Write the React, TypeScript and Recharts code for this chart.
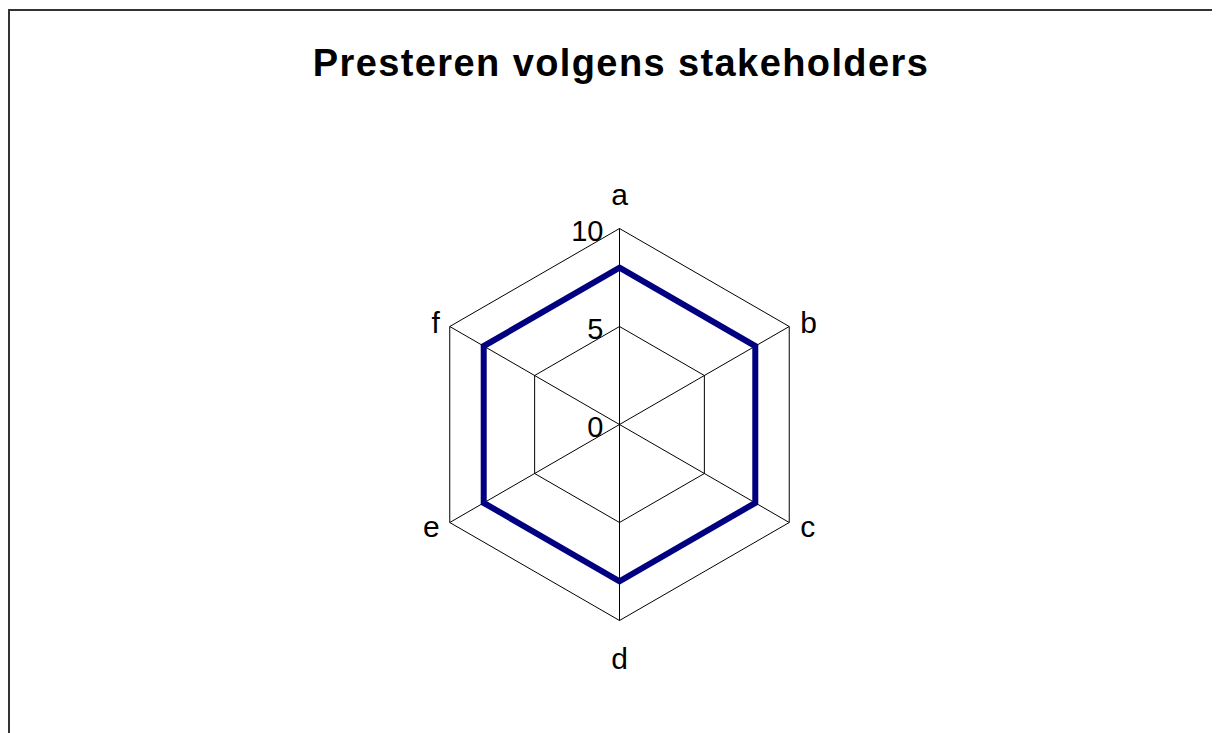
import {
  PolarAngleAxis,
  PolarGrid,
  PolarRadiusAxis,
  Radar,
  RadarChart,
} from "recharts";

const categories = ["a", "b", "c", "d", "e", "f"];
const scores = [8, 8, 8, 8, 8, 8];
const radiusTicks = [0, 5, 10];

const data = categories.map((subject, i) => ({ subject, value: scores[i] }));

const FONT = "'Liberation Sans', Arial, sans-serif";
const WIDTH = 1210;
const HEIGHT = 722;
const CX = 609.5;
const CY = 413.5;
const RADIUS = 196;

function AngleTick(props: any) {
  const { x, y, payload } = props;
  const dx = x - CX;
  const dy = y - CY;
  const len = Math.hypot(dx, dy) || 1;
  const ux = dx / len;
  const uy = dy / len;
  const vx = CX + ux * RADIUS;
  const vy = CY + uy * RADIUS;
  const side = Math.abs(ux) > 0.1;
  let tx = vx;
  let ty = vy;
  let anchor: "start" | "middle" | "end" = "middle";
  if (side) {
    anchor = ux > 0 ? "start" : "end";
    tx = vx + (ux > 0 ? 11 : -10);
    ty = vy + uy * 8;
  } else {
    ty = vy + (uy < 0 ? -34 : 38);
  }
  return (
    <text
      x={tx}
      y={ty}
      textAnchor={anchor}
      dominantBaseline="central"
      fontFamily={FONT}
      fontSize={30}
      fill="#000"
    >
      {payload.value}
    </text>
  );
}

function RadiusTick(props: any) {
  const { x, y, payload } = props;
  return (
    <text
      x={x - 16}
      y={y + 2}
      textAnchor="end"
      dominantBaseline="central"
      fontFamily={FONT}
      fontSize={29}
      fill="#000"
    >
      {payload.value}
    </text>
  );
}

export default function App() {
  return (
    <div
      style={{
        position: "relative",
        width: 1212,
        height: 724,
        marginTop: 1,
        boxSizing: "border-box",
        borderTop: "2px solid #333",
        borderLeft: "2px solid #333",
        background: "#fff",
        overflow: "hidden",
      }}
    >
      <div
        style={{
          position: "absolute",
          left: 611,
          top: 33,
          transform: "translateX(-50%)",
          whiteSpace: "nowrap",
          fontFamily: FONT,
          fontWeight: "bold",
          fontSize: 38,
          letterSpacing: 1.4,
          lineHeight: "38px",
          color: "#000",
        }}
      >
        Presteren volgens stakeholders
      </div>
      <RadarChart
        width={WIDTH}
        height={HEIGHT}
        data={data}
        cx={CX}
        cy={CY}
        outerRadius={RADIUS}
        margin={{ top: 0, right: 0, bottom: 0, left: 0 }}
      >
        <PolarGrid gridType="polygon" stroke="#000" strokeWidth={1} />
        <PolarAngleAxis
          dataKey="subject"
          axisLine={false}
          tickLine={false}
          tick={AngleTick}
        />
        <PolarRadiusAxis
          angle={90}
          domain={[0, 10]}
          ticks={radiusTicks}
          tickCount={3}
          axisLine={false}
          tickLine={false}
          tick={RadiusTick}
        />
        <Radar
          dataKey="value"
          stroke="#000080"
          strokeWidth={6}
          fill="none"
          fillOpacity={0}
          dot={false}
          isAnimationActive={false}
        />
      </RadarChart>
    </div>
  );
}
